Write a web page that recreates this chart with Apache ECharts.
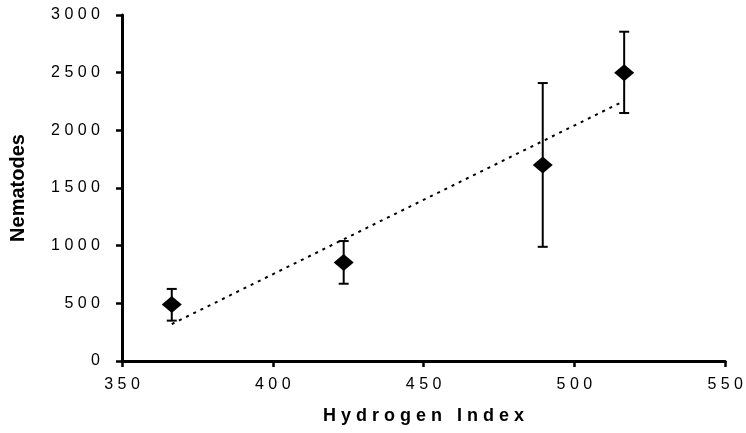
<!DOCTYPE html>
<html>
<head>
<meta charset="utf-8">
<script src="https://cdn.jsdelivr.net/npm/echarts@6/dist/echarts.min.js"></script>
<style>
  html, body { margin: 0; padding: 0; background: #fff; }
  #chart { width: 746px; height: 433px; }
</style>
</head>
<body>
<div id="chart"></div>
<script>
// values
var hydrogenIndex = [366.5, 423.5, 489.5, 516.5];
var nematodes = [490, 855, 1700, 2500];
var errLow = [350, 670, 990, 2150];
var errHigh = [625, 1040, 2410, 2855];
// trend line ends
var trendX = [366.5, 516.5];
var trendY = [320, 2255];

var font = '"Liberation Sans", Arial, sans-serif';

// spread the characters out, like the original typeface
function spaced(s) {
  return String(s).split('').join(' ');
}

var points = hydrogenIndex.map(function (x, i) { return [x, nematodes[i]]; });
var bars = hydrogenIndex.map(function (x, i) { return [x, errLow[i], errHigh[i]]; });
var trend = trendX.map(function (x, i) { return [x, trendY[i]]; });

var chart = echarts.init(document.getElementById('chart'));
chart.setOption({
  animation: false,
  backgroundColor: '#fff',
  grid: { left: 120, right: 20, top: 15, bottom: 72 },
  xAxis: {
    type: 'value',
    min: 350, max: 550, interval: 50,
    name: spaced('Hydrogen Index'),
    nameLocation: 'middle',
    nameGap: 46,
    nameTextStyle: { fontFamily: font, fontSize: 18, fontWeight: 'bold', color: '#000' },
    axisLine: { lineStyle: { color: '#000', width: 3 } },
    axisTick: { length: 6, lineStyle: { color: '#000', width: 2.5 } },
    axisLabel: { fontFamily: font, fontSize: 16, color: '#000', margin: 16, formatter: spaced },
    splitLine: { show: false }
  },
  yAxis: {
    type: 'value',
    min: 0, max: 3000, interval: 500,
    name: 'Nematodes',
    nameLocation: 'middle',
    nameGap: 94,
    nameTextStyle: { fontFamily: font, fontSize: 20, fontWeight: 'bold', color: '#000' },
    axisLine: { show: true, lineStyle: { color: '#000', width: 3 } },
    axisTick: { show: true, length: 6, lineStyle: { color: '#000', width: 2.5 } },
    axisLabel: { fontFamily: font, fontSize: 16, color: '#000', margin: 22, formatter: spaced },
    splitLine: { show: false }
  },
  series: [
    {
      type: 'line',
      data: trend,
      symbol: 'none',
      lineStyle: { color: '#000', width: 2, type: [3, 5] },
      z: 1
    },
    {
      type: 'custom',
      data: bars,
      z: 2,
      renderItem: function (params, api) {
        var x = api.value(0);
        var lo = api.coord([x, api.value(1)]);
        var hi = api.coord([x, api.value(2)]);
        var cap = 5;
        var style = { stroke: '#000', lineWidth: 2 };
        return {
          type: 'group',
          children: [
            { type: 'line', shape: { x1: lo[0], y1: lo[1], x2: hi[0], y2: hi[1] }, style: style },
            { type: 'line', shape: { x1: lo[0] - cap, y1: lo[1], x2: lo[0] + cap, y2: lo[1] }, style: style },
            { type: 'line', shape: { x1: hi[0] - cap, y1: hi[1], x2: hi[0] + cap, y2: hi[1] }, style: style }
          ]
        };
      }
    },
    {
      type: 'scatter',
      data: points,
      symbol: 'diamond',
      symbolSize: [20, 17],
      itemStyle: { color: '#000', opacity: 1 },
      z: 3
    }
  ]
});
</script>
</body>
</html>
